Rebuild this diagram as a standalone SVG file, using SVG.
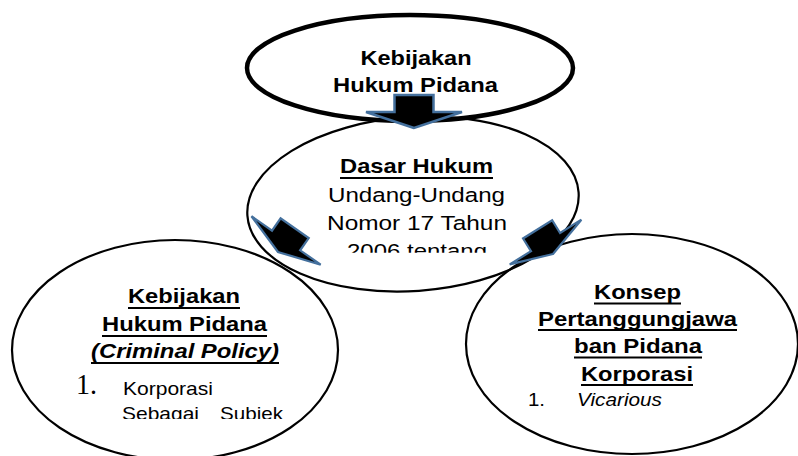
<svg xmlns="http://www.w3.org/2000/svg" width="798" height="456" viewBox="0 0 798 456">
  <style>
    .ell { fill: none; stroke: #000; stroke-width: 2.2; }
    .ell-top { fill: none; stroke: #000; stroke-width: 4.5; }
    .t { font-family: "Liberation Sans", Arial, sans-serif; fill: #000; }
    .b { font-weight: bold; }
    .i { font-style: italic; }
    .h { font-size: 20.5px; }
    .r { font-size: 20.5px; }
    .s { font-size: 18.5px; }
    .serif { font-family: "Liberation Serif", "Times New Roman", serif; }
    .ul { stroke: #000; stroke-width: 2; }
    .arrow { fill: #000; stroke: #44709d; stroke-width: 2.5; stroke-linejoin: miter; }
  </style>
  <defs>
    <path id="blockArrow" d="M0,0 L-48,-16 L-19.5,-16 L-19.5,-33 L19.5,-33 L19.5,-16 L48,-16 Z"/>
    <clipPath id="clipMid"><rect x="0" y="0" width="798" height="252.7"/></clipPath>
    <clipPath id="clipLeft"><rect x="0" y="0" width="798" height="419"/></clipPath>
  </defs>
  <rect x="0" y="0" width="798" height="456" fill="#fff"/>

  <g id="node-top">
    <ellipse class="ell-top" cx="410" cy="68" rx="163" ry="53"/>
    <text class="t b" font-size="21" x="360.5" y="65" textLength="111" lengthAdjust="spacingAndGlyphs">Kebijakan</text>
    <text class="t b" font-size="21" x="333" y="92" textLength="165" lengthAdjust="spacingAndGlyphs">Hukum Pidana</text>
  </g>

  <g id="node-mid">
    <ellipse class="ell" cx="413" cy="204" rx="166" ry="87" transform="rotate(-4 413 204)"/>
    <text class="t b h" x="340" y="173" textLength="153" lengthAdjust="spacingAndGlyphs">Dasar Hukum</text>
    <line class="ul" x1="340" y1="178" x2="493" y2="178"/>
    <text class="t r" x="328" y="201.5" textLength="177" lengthAdjust="spacingAndGlyphs">Undang-Undang</text>
    <text class="t r" x="327" y="229.5" textLength="180" lengthAdjust="spacingAndGlyphs">Nomor 17 Tahun</text>
    <g clip-path="url(#clipMid)">
      <text class="t r" x="347" y="257.5" textLength="140" lengthAdjust="spacingAndGlyphs">2006 tentang</text>
    </g>
  </g>

  <g id="node-left">
    <ellipse class="ell" cx="175" cy="350" rx="163" ry="110"/>
    <text class="t b h" x="128" y="303" textLength="112" lengthAdjust="spacingAndGlyphs">Kebijakan</text>
    <line class="ul" x1="128" y1="308" x2="240" y2="308"/>
    <text class="t b h" x="102" y="331" textLength="165" lengthAdjust="spacingAndGlyphs">Hukum Pidana</text>
    <line class="ul" x1="102" y1="336" x2="267" y2="336"/>
    <text class="t b i h" x="91" y="358" textLength="188" lengthAdjust="spacingAndGlyphs">(Criminal Policy)</text>
    <line class="ul" x1="91" y1="363" x2="279" y2="363"/>
    <text class="serif" font-size="29" x="76" y="394" textLength="21" lengthAdjust="spacingAndGlyphs">1.</text>
    <g clip-path="url(#clipLeft)">
      <text class="t s" x="123" y="395" textLength="90" lengthAdjust="spacingAndGlyphs">Korporasi</text>
      <text class="t s" x="122" y="420" textLength="77" lengthAdjust="spacingAndGlyphs">Sebagai</text>
      <text class="t s" x="220" y="420" textLength="63" lengthAdjust="spacingAndGlyphs">Subjek</text>
    </g>
  </g>

  <g id="node-right">
    <ellipse class="ell" cx="632" cy="344" rx="166" ry="110"/>
    <text class="t b h" x="594" y="299" textLength="87" lengthAdjust="spacingAndGlyphs">Konsep</text>
    <line class="ul" x1="594" y1="303.5" x2="681" y2="303.5"/>
    <text class="t b h" x="538" y="325.5" textLength="199" lengthAdjust="spacingAndGlyphs">Pertanggungjawa</text>
    <line class="ul" x1="538" y1="330" x2="737" y2="330"/>
    <text class="t b h" x="574" y="353" textLength="128" lengthAdjust="spacingAndGlyphs">ban Pidana</text>
    <line class="ul" x1="574" y1="357.5" x2="702" y2="357.5"/>
    <text class="t b h" x="581" y="380.5" textLength="112" lengthAdjust="spacingAndGlyphs">Korporasi</text>
    <line class="ul" x1="581" y1="385" x2="693" y2="385"/>
    <text class="t s" x="528" y="406" textLength="17" lengthAdjust="spacingAndGlyphs">1.</text>
    <text class="t s i" x="577" y="406" textLength="85" lengthAdjust="spacingAndGlyphs">Vicarious</text>
  </g>

  <g id="connectors">
    <use href="#blockArrow" class="arrow" transform="translate(414 128)"/>
    <use href="#blockArrow" class="arrow" transform="translate(278 252) rotate(35) scale(0.88)"/>
    <use href="#blockArrow" class="arrow" transform="translate(553 254) rotate(-32) scale(0.88)"/>
  </g>
</svg>
